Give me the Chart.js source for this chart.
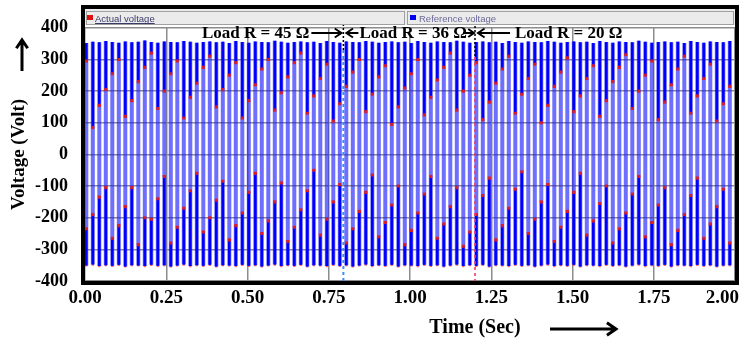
<!DOCTYPE html>
<html><head><meta charset="utf-8">
<script src="https://cdn.jsdelivr.net/npm/chart.js@4.4.1/dist/chart.umd.min.js"></script>
<style>html,body{margin:0;padding:0;background:#fff;overflow:hidden}canvas{display:block}</style>
</head><body>
<canvas id="c" width="741" height="347"></canvas>
<script>
// ---- data ----
const timeSec = [
0.004,0.024,0.044,0.064,0.084,0.104,0.124,0.144,0.164,0.184,
0.204,0.224,0.244,0.264,0.284,0.304,0.324,0.344,0.364,0.384,
0.404,0.424,0.444,0.464,0.484,0.504,0.524,0.544,0.564,0.584,
0.604,0.624,0.644,0.664,0.684,0.704,0.724,0.744,0.764,0.784,
0.804,0.824,0.844,0.864,0.884,0.904,0.924,0.944,0.964,0.984,
1.004,1.024,1.044,1.064,1.084,1.104,1.124,1.144,1.164,1.184,
1.204,1.224,1.244,1.264,1.284,1.304,1.324,1.344,1.364,1.384,
1.404,1.424,1.444,1.464,1.484,1.504,1.524,1.544,1.564,1.584,
1.604,1.624,1.644,1.664,1.684,1.704,1.724,1.744,1.764,1.784,
1.804,1.824,1.844,1.864,1.884,1.904,1.924,1.944,1.964,1.984];

// positive peak of each reference-voltage swing (V)
const highPeak = [
352,356,354,358,355,353,357,354,356,360,
355,353,357,355,354,358,356,353,355,357,
354,356,352,358,355,353,357,355,354,359,
356,353,355,357,354,356,352,358,355,353,
357,355,354,358,356,353,355,357,354,356,
352,358,355,353,357,355,354,359,356,353,
355,357,354,356,352,358,355,353,357,355,
354,358,356,353,355,357,354,356,352,358,
355,353,357,355,354,359,356,353,355,357,
354,356,352,358,355,353,357,355,354,358];

// negative peak of each swing (V)
const lowPeak = [
-351,-348,-353,-350,-352,-349,-354,-350,-351,-353,
-349,-352,-350,-354,-351,-348,-353,-350,-352,-349,
-354,-350,-351,-353,-349,-352,-350,-354,-351,-348,
-353,-350,-352,-349,-354,-350,-351,-353,-349,-352,
-350,-354,-351,-348,-353,-350,-352,-349,-354,-350,
-351,-353,-349,-352,-350,-354,-351,-348,-353,-350,
-352,-349,-354,-350,-351,-353,-349,-352,-350,-354,
-351,-348,-353,-350,-352,-349,-354,-350,-351,-353,
-349,-352,-350,-354,-351,-348,-353,-350,-352,-349,
-354,-350,-351,-353,-349,-352,-350,-354,-351,-350];

// sampled level on the falling edge (upper half) (V)
const upperDot = [
295,85,155,205,255,300,120,170,230,275,320,145,200,255,295,115,180,
225,275,310,150,205,250,290,115,170,220,270,300,140,195,245,290,320,
130,185,240,285,105,160,215,260,300,135,190,245,280,95,150,210,255,
300,125,180,235,275,320,140,200,250,290,110,165,225,270,310,130,190,
240,285,100,155,215,260,305,135,185,240,280,120,170,230,275,315,145,
200,250,295,110,165,220,270,310,130,185,240,285,105,160,215];

// sampled level on the rising edge (lower half) (V)
const lowerDot = [
-235,-190,-135,-105,-265,-225,-165,-105,-285,-200,-205,-140,-70,-280,-230,-170,-115,
-60,-245,-200,-145,-85,-270,-225,-185,-120,-60,-250,-210,-150,-90,-275,-230,-175,
-115,-50,-255,-205,-150,-95,-280,-235,-180,-120,-65,-260,-215,-160,-100,-285,-240,
-185,-125,-70,-265,-220,-165,-105,-290,-245,-190,-130,-75,-270,-225,-170,-110,-55,
-250,-205,-150,-95,-275,-230,-180,-120,-60,-255,-210,-155,-100,-280,-235,-185,-125,
-70,-260,-215,-160,-105,-285,-240,-190,-130,-75,-265,-220,-165,-110,-280];

const xTickValues = [0, 0.25, 0.5, 0.75, 1.0, 1.25, 1.5, 1.75, 2.0];
const yTickValues = [-400, -300, -200, -100, 0, 100, 200, 300, 400];
const loadChangeTimes = [0.795, 1.2];
const loadLabels = ['Load R = 45 \u03A9', 'Load R = 36 \u03A9', 'Load R = 20 \u03A9'];
const seriesNames = ['Actual voltage', 'Reference voltage'];

// ---- build datasets ----
const lightBars = timeSec.map((t, i) => ({x: t, y: [lowPeak[i], highPeak[i]]}));
const darkUpper = timeSec.map((t, i) => ({x: t, y: [upperDot[i], highPeak[i]]}));
const darkLower = timeSec.map((t, i) => ({x: t, y: [lowPeak[i], lowerDot[i]]}));
const actualPts = []
  .concat(timeSec.map((t, i) => ({x: t, y: upperDot[i]})))
  .concat(timeSec.map((t, i) => ({x: t, y: lowerDot[i]})));
const actualPeakPts = timeSec.map((t, i) => ({x: t, y: lowPeak[i]}));

const SERIF = '"Liberation Serif", "Times New Roman", serif';
const SANS = '"Liberation Sans", Arial, sans-serif';

function arrow(ctx, x1, y1, x2, y2, head, lw) {
  const ang = Math.atan2(y2 - y1, x2 - x1);
  ctx.lineWidth = lw;
  ctx.beginPath();
  ctx.moveTo(x1, y1); ctx.lineTo(x2, y2);
  ctx.moveTo(x2 - head * Math.cos(ang - 0.6), y2 - head * Math.sin(ang - 0.6));
  ctx.lineTo(x2, y2);
  ctx.lineTo(x2 - head * Math.cos(ang + 0.6), y2 - head * Math.sin(ang + 0.6));
  ctx.stroke();
}

const decor = {
  id: 'decor',
  afterDatasetsDraw(chart) {
    const {ctx, chartArea: a, scales: {x}} = chart;
    const p1 = x.getPixelForValue(loadChangeTimes[0]);
    const p2 = x.getPixelForValue(loadChangeTimes[1]);
    ctx.save();
    ctx.lineWidth = 2;
    ctx.setLineDash([3, 3]);
    ctx.strokeStyle = '#3a8dff';
    ctx.beginPath(); ctx.moveTo(p1, 50); ctx.lineTo(p1, a.bottom); ctx.stroke();
    ctx.strokeStyle = 'rgba(240,60,100,0.8)';
    ctx.beginPath(); ctx.moveTo(p2, 57); ctx.lineTo(p2, a.bottom); ctx.stroke();
    ctx.strokeStyle = '#000';
    ctx.lineWidth = 1.5;
    ctx.setLineDash([2, 2]);
    ctx.beginPath(); ctx.moveTo(p1, 20); ctx.lineTo(p1, 50); ctx.stroke();
    ctx.beginPath(); ctx.moveTo(p2, 22); ctx.lineTo(p2, 57); ctx.stroke();
    ctx.restore();
  },
  afterDraw(chart) {
    const {ctx, chartArea: a, scales: {x}} = chart;
    const p1 = x.getPixelForValue(loadChangeTimes[0]);
    const p2 = x.getPixelForValue(loadChangeTimes[1]);
    ctx.save();
    // legend strip
    ctx.fillStyle = '#ebebeb';
    ctx.fillRect(a.left, 9, a.right - a.left, 16);
    ctx.strokeStyle = '#a0a0a0'; ctx.lineWidth = 1;
    ctx.strokeRect(86.5, 11.5, 318, 13);
    ctx.strokeRect(407.5, 11.5, 326, 13);
    ctx.fillStyle = '#e01010'; ctx.fillRect(87, 15, 6, 5);
    ctx.fillStyle = '#0000ee'; ctx.fillRect(410, 15, 6, 5);
    ctx.font = '9.5px ' + SANS;
    ctx.textBaseline = 'middle'; ctx.textAlign = 'left';
    ctx.fillStyle = '#3a3a6a';
    ctx.fillText(seriesNames[0], 95, 19);
    const w0 = ctx.measureText(seriesNames[0]).width;
    ctx.strokeStyle = '#3a3a6a';
    ctx.beginPath(); ctx.moveTo(95, 23.5); ctx.lineTo(95 + w0, 23.5); ctx.stroke();
    ctx.fillStyle = '#6a6a9a';
    ctx.fillText(seriesNames[1], 419, 19);

    // frame
    ctx.strokeStyle = '#000'; ctx.lineWidth = 4;
    ctx.strokeRect(83, 7, 654, 276);

    // load annotations
    ctx.fillStyle = '#000'; ctx.strokeStyle = '#000';
    ctx.font = 'bold 17px ' + SERIF;
    ctx.textBaseline = 'alphabetic';
    ctx.textAlign = 'right';
    ctx.fillText(loadLabels[0], p1 - 34, 38);
    ctx.textAlign = 'left';
    ctx.fillText(loadLabels[1], p1 + 16, 38);
    ctx.fillText(loadLabels[2], p2 + 40, 38);
    arrow(ctx, p1 - 32, 33, p1 - 2, 33, 8, 2);
    arrow(ctx, p1 + 15, 33, p1 + 3, 33, 8, 2);
    arrow(ctx, p2 - 12, 33, p2 - 1, 33, 7, 2);
    arrow(ctx, p2 + 35, 33, p2 + 3, 33, 8, 2);

    // x tick labels
    ctx.font = 'bold 19px ' + SERIF;
    ctx.textAlign = 'center'; ctx.textBaseline = 'middle';
    xTickValues.forEach(v => {
      const s = v.toFixed(2);
      const w = ctx.measureText(s).width;
      let cx = x.getPixelForValue(v);
      cx = Math.min(cx, 739 - w / 2);
      ctx.fillText(s, cx, 298);
    });
    // x title + arrow
    ctx.font = 'bold 20px ' + SERIF;
    ctx.fillText('Time (Sec)', 475, 328);
    arrow(ctx, 550, 329, 616, 329, 11, 3);
    // y arrow
    arrow(ctx, 22, 71, 22, 40, 10, 3);
    ctx.restore();
  }
};

new Chart(document.getElementById('c'), {
  type: 'bar',
  data: {
    datasets: [
      {type: 'scatter', label: seriesNames[0], data: actualPts, backgroundColor: '#d81c2a',
       borderWidth: 0, pointStyle: 'rect', pointRadius: 2.2, order: 0},
      {type: 'scatter', label: seriesNames[0], data: actualPeakPts, backgroundColor: 'rgba(255,70,70,0.85)',
       borderWidth: 0, pointStyle: 'rect', pointRadius: 1.6, order: 4},
      {type: 'bar', label: seriesNames[1], data: darkUpper, backgroundColor: '#0000ff',
       maxBarThickness: 2.6, grouped: false, order: 1},
      {type: 'bar', label: seriesNames[1], data: darkLower, backgroundColor: '#0000ff',
       maxBarThickness: 2.6, grouped: false, order: 2},
      {type: 'bar', label: seriesNames[1], data: lightBars, backgroundColor: 'rgba(30,30,255,0.64)',
       maxBarThickness: 4.0, grouped: false, order: 3}
    ]
  },
  options: {
    responsive: false, animation: false, devicePixelRatio: 1,
    layout: {padding: {top: 25, right: 6, left: 0, bottom: 0}},
    plugins: {legend: {display: false}, tooltip: {enabled: false}},
    scales: {
      x: {
        type: 'linear', min: 0, max: 2, offset: false,
        afterBuildTicks: s => { s.ticks = xTickValues.map(v => ({value: v})); },
        ticks: {display: false},
        grid: {color: '#8c8c8c', lineWidth: 1.5, drawTicks: false, offset: false},
        border: {display: false},
        afterFit: s => { s.height = 66; s.paddingLeft = 0; s.paddingRight = 0; }
      },
      y: {
        min: -400, max: 400,
        afterBuildTicks: s => { s.ticks = yTickValues.map(v => ({value: v})); },
        ticks: {color: '#000', font: {family: SERIF, size: 18, weight: 'bold'}, padding: 17},
        grid: {color: '#8c8c8c', lineWidth: 1.5, drawTicks: false},
        border: {display: false},
        title: {display: true, text: 'Voltage (Volt)', color: '#000',
                font: {family: SERIF, size: 19, weight: 'bold'}, padding: {top: 8, bottom: 0}},
        afterFit: s => { s.width = 85; }
      }
    }
  },
  plugins: [decor]
});
</script>
</body></html>
